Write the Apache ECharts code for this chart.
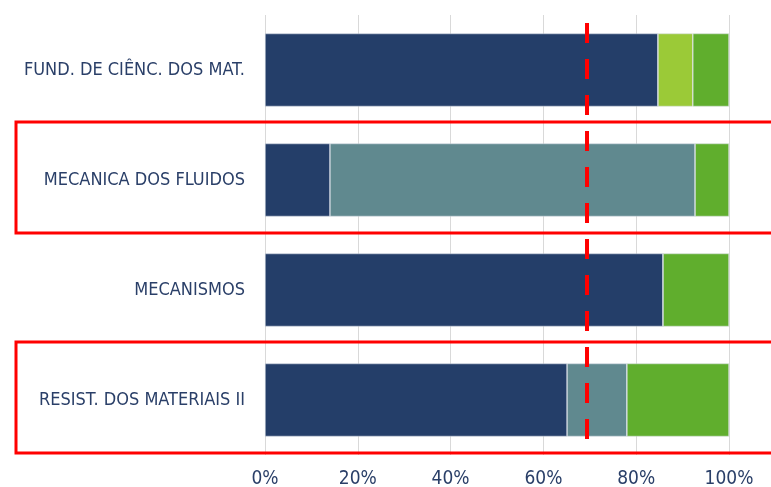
<!DOCTYPE html>
<html>
<head>
<meta charset="utf-8">
<script src="https://cdn.jsdelivr.net/npm/echarts@6/dist/echarts.min.js"></script>
<style>html,body{margin:0;padding:0;background:#fff}#c{width:771px;height:487px}</style>
</head>
<body>
<div id="c"></div>
<script>
const categories = ['FUND. DE CIÊNC. DOS MAT.', 'MECANICA DOS FLUIDOS', 'MECANISMOS', 'RESIST. DOS MATERIAIS II'];
const seriesA = [84.7, 14.0, 85.8, 65.1];   // navy
const seriesB = [0, 78.7, 0, 12.9];          // teal
const seriesC = [7.5, 0, 0, 0];              // light green
const seriesD = [7.8, 7.3, 14.2, 22.0];      // green
const targetLine = 69.4;
const xTicks = [0, 20, 40, 60, 80, 100];
const highlighted = ['MECANICA DOS FLUIDOS', 'RESIST. DOS MATERIAIS II'];

const FONT = '"DejaVu Sans Condensed","DejaVu Sans",sans-serif';
const NAVY = '#2a3f68';
const chart = echarts.init(document.getElementById('c'));

function mk(name, data, color) {
  return {
    name, type: 'bar', stack: 'total', data, barWidth: 73,
    itemStyle: { color, borderColor: 'rgba(215,222,230,0.9)', borderWidth: 0.6 },
    emphasis: { disabled: true }
  };
}
const series = [
  mk('A', seriesA, '#243e69'),
  mk('B', seriesB, '#60898f'),
  mk('C', seriesC, '#9bca37'),
  mk('D', seriesD, '#60ae2d')
];

chart.setOption({
  animation: false,
  grid: { left: 265, right: 42, top: 15, bottom: 32, containLabel: false, outerBoundsMode: 'none' },
  xAxis: {
    type: 'value', min: 0, max: 100, interval: 20,
    axisLine: { show: false }, axisTick: { show: false },
    splitLine: { lineStyle: { color: '#d9d9d9', width: 1 } },
    axisLabel: {
      formatter: v => xTicks.includes(v) ? v + '%' : '',
      color: NAVY, fontFamily: FONT, fontSize: 19, margin: 15
    }
  },
  yAxis: {
    type: 'category', data: categories, inverse: true,
    axisLine: { show: false }, axisTick: { show: false },
    axisLabel: { color: NAVY, fontFamily: FONT, fontSize: 18, margin: 20 }
  },
  series
});

const lx = chart.convertToPixel({ xAxisIndex: 0 }, targetLine);
const yTop = chart.convertToPixel({ yAxisIndex: 0 }, categories[0]) - 47;
const yBot = chart.convertToPixel({ yAxisIndex: 0 }, categories[categories.length - 1]) + 45;
const graphics = highlighted.map(cat => {
  const cy = chart.convertToPixel({ yAxisIndex: 0 }, cat);
  return {
    type: 'rect', silent: true, z: 10,
    shape: { x: 16, y: cy - 58, width: 780, height: 111 },
    style: { fill: 'none', stroke: '#ff0000', lineWidth: 3 }
  };
});
graphics.push({
  type: 'line', silent: true, z: 20,
  shape: { x1: lx, y1: yTop, x2: lx, y2: yBot },
  style: { stroke: '#ff0000', lineWidth: 4, lineDash: [20, 16] }
});
chart.setOption({ graphic: graphics });
</script>
</body>
</html>
